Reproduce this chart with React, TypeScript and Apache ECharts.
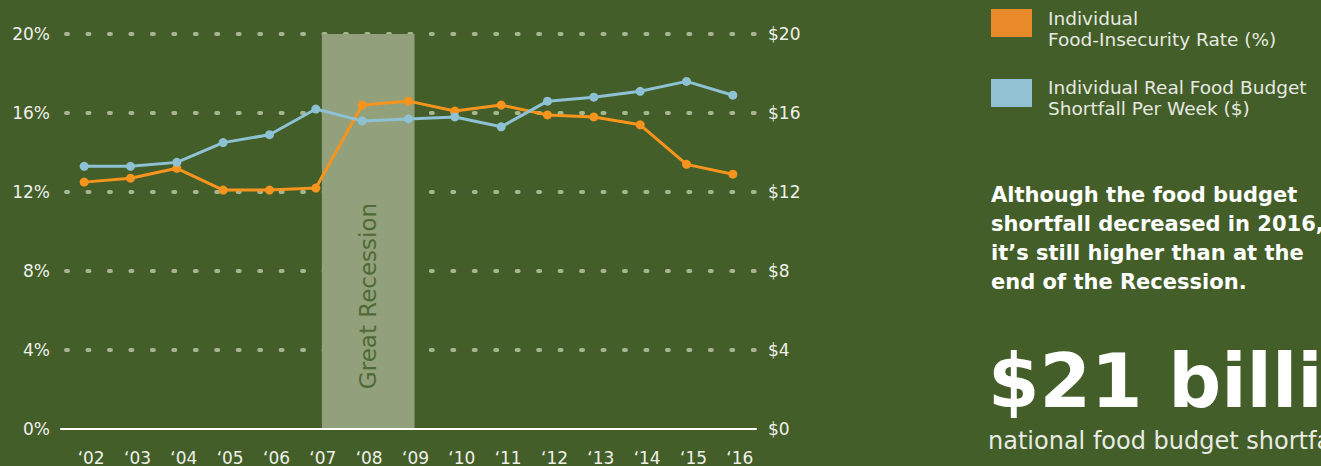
import React, { useEffect, useRef } from "react";
import * as echarts from "echarts";

const categories = ["‘02", "‘03", "‘04", "‘05", "‘06", "‘07", "‘08", "‘09", "‘10", "‘11", "‘12", "‘13", "‘14", "‘15", "‘16"];
const insecurityRate = [12.5, 12.7, 13.2, 12.1, 12.1, 12.2, 16.4, 16.6, 16.1, 16.4, 15.9, 15.8, 15.4, 13.4, 12.9];
const budgetShortfall = [13.3, 13.3, 13.5, 14.5, 14.9, 16.2, 15.6, 15.7, 15.8, 15.3, 16.6, 16.8, 17.1, 17.6, 16.9];
const yTicksMin = 0;
const yTicksMax = 20;
const yTicksInterval = 4;
const yearMin = 2001.5;
const yearMax = 2016.5;
const recessionStart = 2007.13;
const recessionEnd = 2009.13;

const ORANGE_NAME = "Individual\nFood-Insecurity Rate (%)";
const BLUE_NAME = "Individual Real Food Budget\nShortfall Per Week ($)";

const FONT = "'DejaVu Sans', 'Noto Sans', sans-serif";

export default function App() {
  const ref = useRef<HTMLDivElement>(null);
  useEffect(() => {
    if (!ref.current) return;
    const chart = echarts.init(ref.current, null, { renderer: "svg" });
    const labelColor = "#eef0ea";
    const legendText = "#e6e9e1";
    chart.setOption({
      animation: false,
      backgroundColor: "#435e28",
      textStyle: { fontFamily: FONT },
      grid: { left: 61, right: 565, top: 34, bottom: 37, containLabel: false },
      xAxis: [
        {
          type: "category",
          data: categories,
          boundaryGap: true,
          z: 5,
          axisLine: { show: true, lineStyle: { color: "#ffffff", width: 2 } },
          axisTick: { show: false },
          axisLabel: { color: labelColor, fontSize: 17, margin: 20, padding: [0, 0, 0, 14] },
          splitLine: { show: false },
        },
        {
          type: "value",
          min: yearMin,
          max: yearMax,
          show: false,
          position: "bottom",
        },
      ],
      yAxis: [
        {
          type: "value",
          min: yTicksMin,
          max: yTicksMax,
          interval: yTicksInterval,
          axisLine: { show: false },
          axisTick: { show: false },
          axisLabel: { color: labelColor, fontSize: 17, margin: 11, formatter: "{value}%" },
          splitLine: {
            show: true,
            showMinLine: false,
            lineStyle: { color: "#a8b492", width: 4, type: [2, 19.46], dashOffset: -4.7, cap: "round" },
          },
        },
        {
          type: "value",
          min: yTicksMin,
          max: yTicksMax,
          interval: yTicksInterval,
          position: "right",
          axisLine: { show: false },
          axisTick: { show: false },
          axisLabel: { color: labelColor, fontSize: 17, margin: 12, formatter: "${value}" },
          splitLine: { show: false },
        },
      ],
      series: [
        {
          name: "recession",
          type: "line",
          xAxisIndex: 1,
          yAxisIndex: 0,
          data: [],
          silent: true,
          markArea: {
            silent: true,
            itemStyle: { color: "#93a07c", opacity: 1 },
            label: { show: false },
            data: [[{ xAxis: recessionStart }, { xAxis: recessionEnd }]],
          },
        },
        {
          name: ORANGE_NAME,
          type: "line",
          data: insecurityRate,
          yAxisIndex: 0,
          color: "#f7941d",
          lineStyle: { width: 3, color: "#f7941d" },
          itemStyle: { color: "#f7941d" },
          symbol: "circle",
          symbolSize: 9,
          z: 3,
        },
        {
          name: BLUE_NAME,
          type: "line",
          data: budgetShortfall,
          yAxisIndex: 1,
          color: "#8ec1d3",
          lineStyle: { width: 3, color: "#8ec1d3" },
          itemStyle: { color: "#8ec1d3" },
          symbol: "circle",
          symbolSize: 9,
          z: 4,
        },
      ],
      graphic: [
        { type: "rect", shape: { x: 991, y: 9, width: 41, height: 28 }, style: { fill: "#e8892a" } },
        {
          type: "text",
          x: 1048,
          y: 8,
          style: { text: ORANGE_NAME, fill: legendText, fontSize: 18.5, lineHeight: 21, fontFamily: FONT },
        },
        { type: "rect", shape: { x: 991, y: 79, width: 41, height: 28 }, style: { fill: "#92c1d3" } },
        {
          type: "text",
          x: 1048,
          y: 77,
          style: { text: BLUE_NAME, fill: legendText, fontSize: 18.5, lineHeight: 21, fontFamily: FONT },
        },
        {
          type: "text",
          x: 368,
          y: 296,
          rotation: Math.PI / 2,
          z: 10,
          style: {
            text: "Great Recession",
            fill: "#4f6b35",
            fontSize: 23,
            fontFamily: FONT,
            align: "center",
            verticalAlign: "middle",
          },
        },
        {
          type: "text",
          x: 991,
          y: 180,
          style: {
            text: "Although the food budget\nshortfall decreased in 2016,\nit’s still higher than at the\nend of the Recession.",
            fill: "#ffffff",
            fontSize: 21,
            fontWeight: "bold",
            lineHeight: 29,
            fontFamily: FONT,
          },
        },
        {
          type: "text",
          x: 988,
          y: 381,
          style: {
            text: "$21 billion",
            fill: "#ffffff",
            fontSize: 74,
            fontWeight: "bold",
            fontFamily: FONT,
            verticalAlign: "middle",
          },
        },
        {
          type: "text",
          x: 988,
          y: 441,
          style: {
            text: "national food budget shortfall",
            fill: "#e8ebe4",
            fontSize: 24,
            fontFamily: FONT,
            verticalAlign: "middle",
          },
        },
      ],
    });
    return () => chart.dispose();
  }, []);
  return (
    <div
      ref={ref}
      style={{ position: "fixed", left: 0, top: 0, width: 1321, height: 466 }}
    />
  );
}
